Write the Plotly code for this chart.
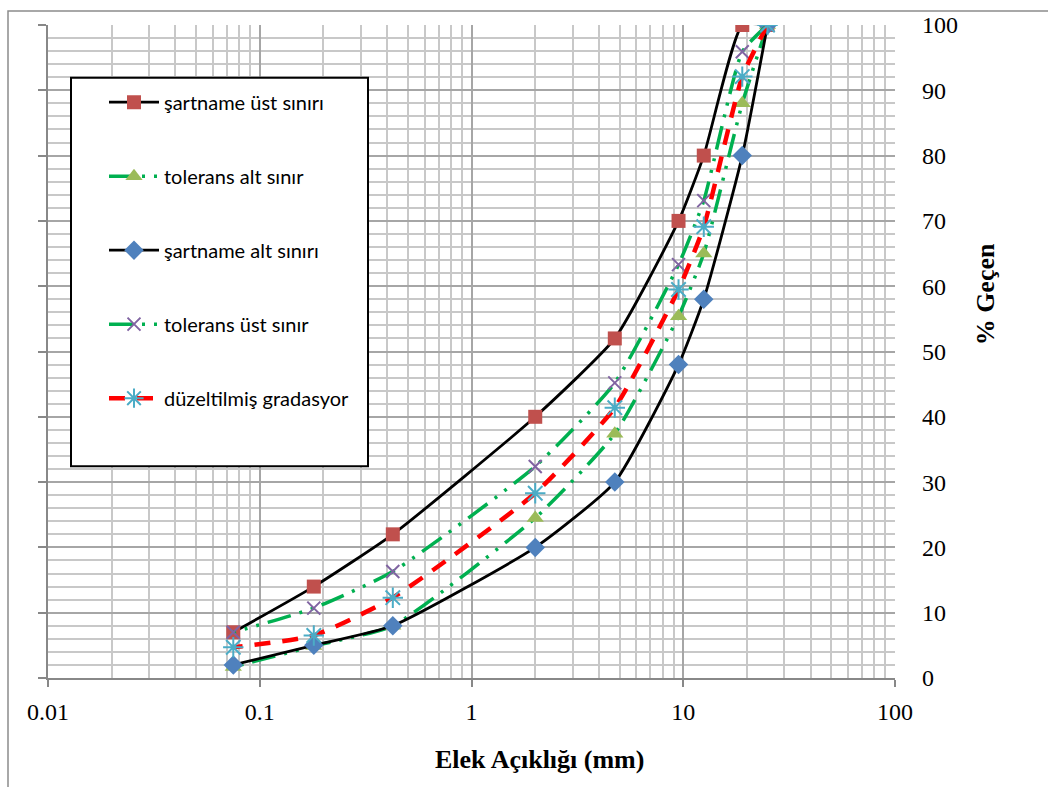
import plotly.graph_objects as go

# Sieve openings (mm)
sieve = [25, 19, 12.5, 9.5, 4.75, 2, 0.425, 0.18, 0.075]

sartname_ust = [100, 100, 80, 70, 52, 40, 22, 14, 7]
tolerans_alt = [100, 88, 65, 55.4, 37.4, 24.5, 8, 4.9, 1.7]
sartname_alt = [100, 80, 58, 48, 30, 20, 8, 5, 2]
tolerans_ust = [100, 95.9, 73.1, 63.3, 45.2, 32.4, 16.3, 10.7, 7]
duzeltilmis = [100, 92.1, 69.1, 59.5, 41.4, 28.3, 12.3, 6.5, 4.7]

names = ["şartname üst sınırı", "tolerans alt sınır", "şartname alt sınırı",
         "tolerans üst sınır", "düzeltilmiş gradasyor"]

x_tickvals = [0.01, 0.1, 1, 10, 100]
x_ticktext = ["0.01", "0.1", "1", "10", "100"]

W, H = 1048, 787
L, R, T, B = 48, 895, 21, 678


def pxx(p):
    return (p - L) / (R - L)


def pxy(p):
    return (B - p) / (B - T)


dashdotdot = "24px,9px,3px,9px,3px,9px"

fig = go.Figure()

fig.add_trace(go.Scatter(
    x=sieve, y=sartname_ust, name=names[0], legendgroup="a",
    mode="lines+markers",
    line=dict(color="black", width=2.8, shape="spline", smoothing=0.5),
    marker=dict(symbol="square", size=14, color="#C0504D"),
))
fig.add_trace(go.Scatter(
    x=sieve, y=tolerans_alt, name=names[1], legendgroup="b",
    mode="lines+markers",
    line=dict(color="#00B050", width=3.5, dash=dashdotdot, shape="spline", smoothing=0.5),
    marker=dict(symbol="triangle-up", size=15, color="#9BBB59"),
))
fig.add_trace(go.Scatter(
    x=sieve, y=sartname_alt, name=names[2], legendgroup="c",
    mode="lines+markers",
    line=dict(color="black", width=2.8, shape="spline", smoothing=0.5),
    marker=dict(symbol="diamond", size=15, color="#4F81BD"),
))
fig.add_trace(go.Scatter(
    x=sieve, y=tolerans_ust, name=names[3], legendgroup="d",
    mode="lines+markers",
    line=dict(color="#00B050", width=3.5, dash=dashdotdot, shape="spline", smoothing=0.5),
    marker=dict(symbol="x-thin-open", size=13, color="#8064A2",
                line=dict(color="#8064A2", width=2)),
))
fig.add_trace(go.Scatter(
    x=sieve, y=duzeltilmis, name=names[4], legendgroup="e",
    mode="lines+markers",
    line=dict(color="#FF0000", width=4.5, dash="16px,12px", shape="spline", smoothing=0.5),
    marker=dict(symbol="asterisk-open", size=17, color="#4BACC6",
                line=dict(color="#4BACC6", width=2)),
))
# empty trace to anchor left tick axis
fig.add_trace(go.Scatter(x=[], y=[], yaxis="y2", showlegend=False, hoverinfo="skip"))

grid_minor = "#C8C8C8"
grid_major = "#A6A6A6"

fig.update_layout(
    width=W, height=H,
    margin=dict(l=L, r=W - R, t=T, b=H - B, pad=0),
    paper_bgcolor="white", plot_bgcolor="white",
    showlegend=True,
    legend=dict(
        x=pxx(104), y=pxy(79), xanchor="left", yanchor="top",
        bgcolor="rgba(0,0,0,0)", borderwidth=0,
        font=dict(family="Lato", size=20, color="black"),
        tracegroupgap=45, itemwidth=50,
    ),
    xaxis=dict(
        type="log", range=[-2, 2],
        tickvals=x_tickvals, ticktext=x_ticktext,
        ticks="outside", ticklen=7, tickcolor="#888888", tickwidth=1.5,
        showgrid=True, gridcolor=grid_major, gridwidth=1.5,
        minor=dict(dtick="D1", showgrid=True, gridcolor=grid_minor, gridwidth=1.5, ticks=""),
        showline=True, linecolor="#888888", linewidth=2,
        zeroline=False,
        tickfont=dict(family="Liberation Serif", size=24, color="black"),
        ticklabelstandoff=4,
    ),
    yaxis=dict(
        range=[0, 100], dtick=10, side="right",
        showgrid=True, gridcolor=grid_major, gridwidth=1.5,
        minor=dict(dtick=2, showgrid=True, gridcolor=grid_minor, gridwidth=1.5),
        ticks="", showline=False, zeroline=False,
        tickfont=dict(family="Liberation Serif", size=24, color="black"),
        ticklabelstandoff=26,
    ),
    yaxis2=dict(
        range=[0, 100], dtick=10, overlaying="y", side="left",
        ticks="outside", ticklen=8, tickcolor="#888888", tickwidth=1.5,
        showticklabels=False, showgrid=False, zeroline=False,
        showline=True, linecolor="#888888", linewidth=2,
    ),
    shapes=[
        dict(type="rect", xref="paper", yref="paper",
             x0=pxx(8), x1=pxx(1070), y0=pxy(810), y1=pxy(7),
             line=dict(color="#8C8C8C", width=1.5), fillcolor="rgba(0,0,0,0)",
             layer="below"),
        dict(type="rect", xref="paper", yref="paper",
             x0=pxx(71), x1=pxx(368), y0=pxy(465), y1=pxy(74),
             line=dict(color="black", width=2), fillcolor="white",
             layer="above"),
    ],
    annotations=[
        dict(text="<b>Elek Açıklığı (mm)</b>", xref="paper", yref="paper",
             x=pxx(539), y=pxy(760), xanchor="center", yanchor="middle",
             showarrow=False,
             font=dict(family="Liberation Serif", size=26, color="black")),
        dict(text="<b>% Geçen</b>", xref="paper", yref="paper",
             x=pxx(985), y=pxy(292), xanchor="center", yanchor="middle",
             showarrow=False, textangle=-90,
             font=dict(family="Liberation Serif", size=26, color="black")),
    ],
)

fig.write_html("out.html")
